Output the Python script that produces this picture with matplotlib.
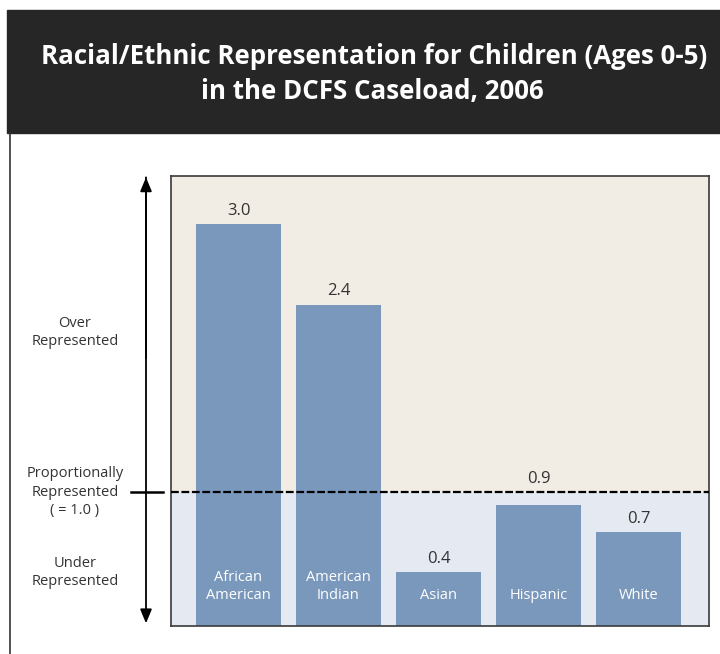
import matplotlib.pyplot as plt
from matplotlib.patches import Rectangle
from matplotlib.lines import Line2D
from matplotlib.transforms import blended_transform_factory


## DATA

groups = ["African\nAmerican", "American\nIndian", "Asian", "Hispanic", "White"]
ratios = [3.0, 2.4, 0.4, 0.9, 0.7]
parity = 1.0

## STYLE

W, H = 720, 654
TITLE_BG   = "#262626"
OVER_BG    = "#f1ece4"
UNDER_BG   = "#e4e9f2"
BAR_COLOR  = "#7a98bc"
TEXT_COLOR = "#333333"
FONT = ["Open Sans", "DejaVu Sans"]


def px(x, y):
    # pixel position (from top-left) -> figure fraction
    return x / W, 1 - y / H


fig = plt.figure(figsize=(W / 100, H / 100), dpi=100)
fig.set_facecolor("white")

# black title banner and the panel's left border
x0, y0 = px(7, 133)
fig.patches.append(Rectangle((x0, y0), 1 - x0, (133 - 10) / H,
                             transform=fig.transFigure, color=TITLE_BG, zorder=0))
fig.lines.append(Line2D([10 / W, 10 / W], [0, y0], transform=fig.transFigure,
                        color="#333333", lw=1.2))
fig.text(374 / W, 1 - 56 / H, "Racial/Ethnic Representation for Children (Ages 0-5)",
         color="white", fontsize=18.6, fontweight="bold", family=FONT,
         ha="center", va="center")
fig.text(372 / W, 1 - 91 / H, "in the DCFS Caseload, 2006",
         color="white", fontsize=18.6, fontweight="bold", family=FONT,
         ha="center", va="center")

# plot area
left, top, right, bottom = 171, 176, 709, 626
ax = fig.add_axes([left / W, 1 - bottom / H, (right - left) / W, (bottom - top) / H])
ymax = 3.36
ax.set_ylim(0, ymax)
ax.set_xlim(-0.675, len(groups) - 1 + 0.705)
ax.axhspan(parity, ymax, color=OVER_BG, lw=0, zorder=0)
ax.axhspan(0, parity, color=UNDER_BG, lw=0, zorder=0)

xs = list(range(len(groups)))
bars = ax.bar(xs, ratios, width=0.85, color=BAR_COLOR, zorder=2)
for x, v, name in zip(xs, ratios, groups):
    # a value label that would sit on the dashed line goes just above it
    base = parity if v < parity < v + 0.2 else v
    ax.annotate(f"{v:.1f}", (x, base), xytext=(0, 4), textcoords="offset points",
                ha="center", va="bottom", fontsize=12, color=TEXT_COLOR, family=FONT)
    ax.text(x, 0.17, name, ha="center", va="bottom", fontsize=10.5,
            color="white", family=FONT, linespacing=1.25, zorder=3)

ax.axhline(parity, color="black", lw=1.6, ls=(0, (3.5, 1.2)), zorder=4)

ax.set_xticks([])
ax.set_yticks([])
for s in ax.spines.values():
    s.set_color("#3a3a3a")
    s.set_linewidth(1.2)

# left-hand scale: double arrow, parity tick and zone labels
side = blended_transform_factory(fig.transFigure, ax.transData)
ax.annotate("", xy=(146 / W, 0.02), xycoords=side, xytext=(146 / W, 3.35),
            textcoords=side, annotation_clip=False,
            arrowprops=dict(arrowstyle="-|>,head_length=0.6,head_width=0.25",
                            color="black", lw=1.3, shrinkA=0, shrinkB=0,
                            mutation_scale=14))
ax.annotate("", xy=(146 / W, 3.35), xycoords=side, xytext=(146 / W, 2.0),
            textcoords=side, annotation_clip=False,
            arrowprops=dict(arrowstyle="-|>,head_length=0.6,head_width=0.25",
                            color="black", lw=1.3, shrinkA=0, shrinkB=0,
                            mutation_scale=14))
ax.plot([131 / W, 163 / W], [parity, parity], transform=side, color="black",
        lw=1.8, clip_on=False)

label_kw = dict(transform=side, ha="center", va="center", fontsize=10.5,
                color=TEXT_COLOR, family=FONT, linespacing=1.3)
ax.text(75 / W, 2.19, "Over\nRepresented", **label_kw)
ax.text(75 / W, parity, "Proportionally\nRepresented\n( = 1.0 )", **label_kw)
ax.text(75 / W, 0.40, "Under\nRepresented", **label_kw)

plt.savefig("out.png", dpi=100)
